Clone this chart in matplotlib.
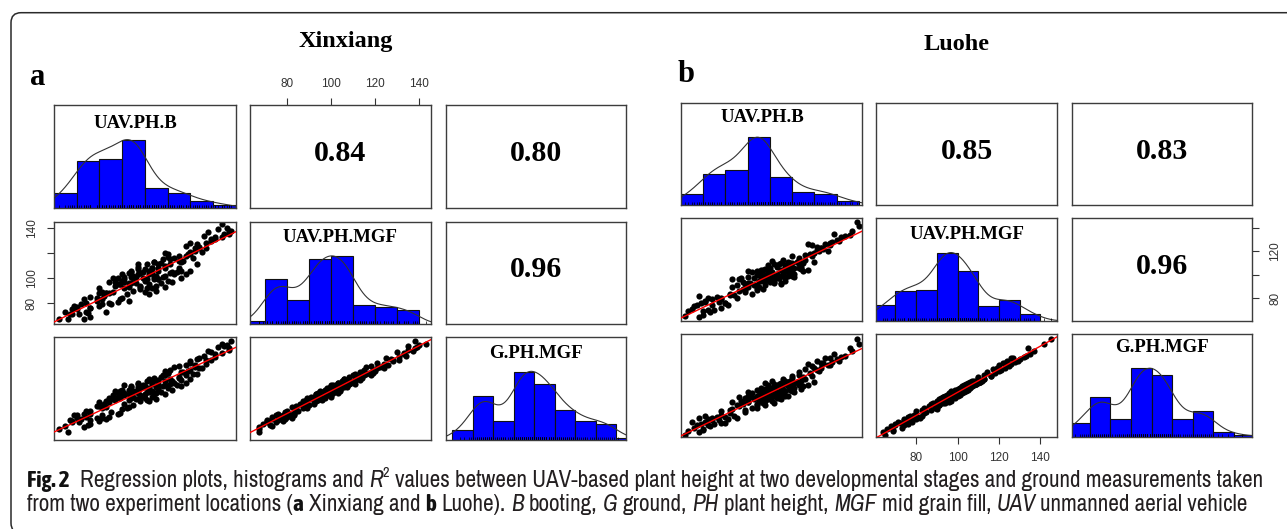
import math
import numpy as np
import matplotlib
matplotlib.use("Agg")
import matplotlib.pyplot as plt
from matplotlib import font_manager as fm
from matplotlib.patches import FancyBboxPatch
from matplotlib.transforms import IdentityTransform

# ---------------------------------------------------------------- data
var_labels = ["UAV.PH.B", "UAV.PH.MGF", "G.PH.MGF"]
titles = ["Xinxiang", "Luohe"]
panel_letters = ["a", "b"]

# R^2 values shown in upper panels: (B,MGF), (B,G), (MGF,G)
r2_xinxiang = ["0.84", "0.80", "0.96"]
r2_luohe = ["0.85", "0.83", "0.96"]

# Xinxiang samples
xin_g = [64, 66, 68, 69, 71, 72, 72, 73, 74, 74, 75, 75, 76, 76, 77, 77, 78, 78, 79, 79,
         79, 81, 82, 83, 84, 85, 86, 88, 89, 90, 90, 91, 91, 92, 92, 93, 93, 94, 94, 94,
         95, 95, 95, 96, 96, 97, 97, 97, 98, 98, 98, 99, 99, 99, 100, 100, 101, 101, 102, 102,
         102, 103, 103, 104, 104, 105, 105, 105, 106, 106, 107, 107, 108, 108, 109, 109, 110, 111, 112, 112,
         113, 114, 115, 116, 117, 118, 119, 119, 121, 122, 124, 125, 126, 128, 129, 131, 133, 134, 136, 138,
         139, 141,
         70, 73, 76, 78, 80, 82, 84, 86, 87, 88, 89, 90, 91, 92, 93, 94, 95, 96, 97, 98,
         99, 100, 100, 101, 102, 103, 103, 104, 105, 106, 106, 107, 108, 109, 110, 111, 112, 113, 114, 115,
         116, 117, 118, 120, 121, 123, 125, 127, 130, 132, 135, 137, 96, 99, 102, 104, 93, 97, 101, 85]
xin_mgf = [67, 67, 67, 73, 69, 75, 71, 78, 71, 76, 79, 73, 77, 82, 73, 80, 78, 83, 76, 81,
           83, 79, 85, 84, 89, 82, 88, 92, 88, 93, 88, 96, 92, 89, 96, 95, 89, 95, 100, 92,
           98, 94, 100, 98, 93, 101, 97, 103, 96, 101, 99, 95, 104, 101, 99, 104, 103, 98, 107, 102,
           105, 101, 107, 105, 100, 108, 111, 104, 108, 103, 111, 108, 106, 113, 111, 106, 114, 112, 118, 110,
           116, 119, 114, 120, 119, 124, 116, 122, 126, 124, 128, 131, 127, 131, 134, 133, 137, 135, 139, 140,
           143, 138,
           72, 71, 79, 75, 83, 80, 87, 84, 90, 86, 92, 87, 94, 90, 97, 91, 99, 93, 100, 95,
           102, 97, 103, 99, 105, 100, 106, 102, 108, 103, 109, 105, 111, 106, 113, 108, 115, 111, 117, 113,
           119, 115, 121, 118, 124, 121, 128, 125, 133, 130, 138, 135, 99, 97, 106, 101, 96, 94, 104, 88]
xin_b = [56, 52, 63, 55, 66, 58, 61, 70, 57, 66, 62, 73, 60, 69, 64, 74, 59, 71, 66, 78,
         63, 75, 66, 80, 71, 83, 70, 81, 74, 88, 73, 83, 91, 76, 86, 79, 90, 78, 85, 93,
         80, 88, 76, 90, 83, 94, 81, 87, 97, 84, 91, 79, 93, 86, 96, 83, 92, 100, 87, 95,
         84, 98, 90, 104, 89, 96, 87, 101, 93, 103, 91, 99, 106, 94, 101, 92, 105, 97, 108, 99,
         111, 100, 107, 99, 110, 114, 103, 112, 108, 117, 110, 119, 113, 121, 116, 124, 118, 127, 122, 126,
         124, 128,
         65, 58, 71, 60, 79, 64, 82, 69, 85, 72, 70, 92, 77, 95, 74, 88, 81, 99, 78, 92,
         85, 102, 80, 96, 89, 106, 84, 99, 93, 108, 87, 102, 96, 110, 94, 105, 98, 113, 100, 106,
         109, 101, 115, 105, 112, 110, 117, 114, 121, 119, 127, 125, 94, 77, 96, 81, 84, 95, 88, 73]

# Luohe samples
luo_g = [63, 65, 66, 68, 69, 70, 71, 72, 72, 73, 74, 74, 75, 76, 76, 77, 77, 78, 78, 79,
         79, 81, 83, 84, 85, 86, 88, 89, 90, 90, 91, 91, 92, 92, 92, 93, 93, 94, 94, 94,
         95, 95, 95, 96, 96, 96, 97, 97, 97, 98, 98, 98, 99, 99, 99, 100, 100, 101, 101, 101,
         102, 102, 103, 103, 103, 104, 104, 105, 105, 105, 106, 106, 107, 107, 108, 108, 109, 109, 109, 110,
         112, 113, 115, 116, 118, 119, 120, 121, 122, 123, 124, 125, 126, 127, 128, 129, 132, 137, 144,
         67, 71, 73, 75, 77, 80, 82, 84, 86, 87, 88, 89, 90, 91, 92, 93, 94, 95, 96, 97,
         98, 99, 100, 101, 102, 103, 104, 105, 106, 107, 108, 109, 110, 111, 113, 114, 117, 120, 122, 124,
         126, 128, 130, 134, 140, 94, 96, 98, 100, 102, 104, 106, 92, 95, 97, 99, 101, 103, 88, 108]
luo_mgf = [65, 64, 69, 66, 73, 68, 74, 70, 76, 72, 78, 71, 77, 80, 74, 79, 82, 76, 81, 83,
           77, 84, 80, 87, 90, 84, 91, 87, 94, 88, 93, 96, 90, 95, 97, 91, 96, 92, 97, 99,
           93, 98, 96, 100, 94, 98, 101, 95, 99, 102, 96, 100, 97, 103, 98, 104, 97, 103, 99, 105,
           100, 104, 106, 101, 104, 107, 102, 108, 103, 106, 109, 104, 110, 105, 111, 106, 112, 107, 110, 113,
           110, 116, 118, 114, 121, 117, 123, 125, 120, 126, 122, 128, 124, 130, 126, 132, 135, 134, 145,
           69, 70, 76, 74, 80, 79, 85, 83, 89, 86, 91, 88, 93, 90, 95, 92, 97, 94, 99, 96,
           101, 98, 103, 100, 105, 102, 107, 104, 109, 106, 111, 108, 113, 110, 116, 113, 120, 119, 125, 123,
           129, 127, 133, 137, 142, 97, 95, 101, 99, 105, 103, 109, 95, 93, 100, 97, 104, 101, 91, 111]
luo_b = [52, 58, 53, 60, 56, 63, 57, 65, 59, 68, 61, 55, 67, 62, 71, 64, 58, 70, 66, 74,
         61, 72, 68, 79, 73, 82, 75, 84, 78, 87, 80, 73, 85, 91, 77, 83, 89, 79, 86, 93,
         81, 88, 76, 84, 92, 80, 90, 85, 95, 82, 89, 86, 94, 80, 91, 87, 97, 84, 92, 99,
         88, 95, 90, 101, 86, 93, 98, 89, 96, 103, 92, 100, 95, 88, 102, 97, 91, 104, 99, 96,
         105, 100, 108, 103, 111, 106, 113, 109, 116, 107, 114, 118, 111, 120, 115, 122, 119, 126, 129,
         60, 62, 70, 64, 75, 68, 79, 72, 84, 76, 88, 78, 92, 80, 86, 95, 83, 90, 98, 87,
         93, 101, 89, 96, 104, 91, 99, 107, 94, 101, 110, 97, 106, 100, 109, 103, 112, 110, 117, 113,
         121, 117, 124, 127, 130, 94, 97, 96, 100, 99, 105, 103, 88, 95, 91, 93, 96, 99, 84, 98]

# histogram bars on the diagonal (breaks and relative bar heights)
xin_hist_edges = [[50, 60, 70, 80, 90, 100, 110, 120, 130],
                  [60, 70, 80, 90, 100, 110, 120, 130, 140],
                  [60, 70, 80, 90, 100, 110, 120, 130, 140, 150]]
xin_hist_heights = [[0.22, 0.69, 0.72, 1.00, 0.30, 0.22, 0.10, 0.05],
                    [0.053, 0.66, 0.36, 0.96, 1.00, 0.28, 0.26, 0.21],
                    [0.146, 0.64, 0.27, 0.99, 0.82, 0.44, 0.27, 0.24, 0.03]]
luo_hist_edges = [[50, 60, 70, 80, 90, 100, 110, 120, 130],
                  [60, 70, 80, 90, 100, 110, 120, 130, 140],
                  [60, 70, 80, 90, 100, 110, 120, 130, 140, 150]]
luo_hist_heights = [[0.166, 0.46, 0.52, 1.00, 0.41, 0.19, 0.166, 0.06],
                    [0.23, 0.44, 0.45, 1.00, 0.73, 0.22, 0.30, 0.106],
                    [0.20, 0.58, 0.26, 1.00, 0.90, 0.26, 0.37, 0.07, 0.02]]

# axis ranges of the three variables
xin_lims = [(50.0, 130.0), (63.05, 145.2), (57.0, 144.8)]
luo_lims = [(50.0, 131.3), (60.6, 148.2), (61.2, 148.6)]

axis_ticks = [80, 100, 120, 140]
caption_line1 = [("Fig. 2", "bold"), ("  Regression plots, histograms and ", "normal"), ("R", "italic"),
                 ("2", "sup"), (" values between UAV-based plant height at two developmental stages and ground measurements taken", "normal")]
caption_line2 = [("from two experiment locations (", "normal"), ("a", "bold"), (" Xinxiang and ", "normal"),
                 ("b", "bold"), (" Luohe). ", "normal"), ("B", "italic"), (" booting, ", "normal"),
                 ("G", "italic"), (" ground, ", "normal"), ("PH", "italic"), (" plant height, ", "normal"),
                 ("MGF", "italic"), (" mid grain fill, ", "normal"), ("UAV", "italic"),
                 (" unmanned aerial vehicle", "normal")]

# ---------------------------------------------------------------- style
W, H = 1287, 529
SERIF = "Liberation Serif"
SANS = "Liberation Sans"
FRAME = "#3c3c3c"
TICKC = "#333333"

fig = plt.figure(figsize=(W / 100, H / 100), dpi=100)
fig.patch.set_facecolor("white")


def ax_px(x0, y0, x1, y1):
    return fig.add_axes([x0 / W, 1 - y1 / H, (x1 - x0) / W, (y1 - y0) / H])


def cdf(z):
    return 0.5 * (1 + np.vectorize(math.erf)(z / math.sqrt(2)))


def smooth_hist(edges, heights, xs, bw):
    y = np.zeros_like(xs)
    for a, b, h in zip(edges[:-1], edges[1:], heights):
        y += h * (cdf((xs - a) / bw) - cdf((xs - b) / bw))
    return y / y.max()


def frame(ax):
    for s in ax.spines.values():
        s.set_color(FRAME)
        s.set_linewidth(1.0)
    ax.set_xticks([])
    ax.set_yticks([])
    ax.set_facecolor("white")


def draw_pairs(cols_px, rows_px, data, lims, edges, heights, r2, label_xy):
    axes = {}
    r2_idx = {(0, 1): 0, (0, 2): 1, (1, 2): 2}
    for i in range(3):
        for j in range(3):
            ax = ax_px(cols_px[j][0], rows_px[i][0], cols_px[j][1], rows_px[i][1])
            frame(ax)
            axes[(i, j)] = ax
            if i == j:
                e = edges[i]
                hts = heights[i]
                ax.bar(e[:-1], hts, width=np.diff(e), align="edge", color="#0000ff",
                       edgecolor="#111111", linewidth=0.8, zorder=2)
                xs = np.linspace(lims[i][0] - 5, lims[i][1] + 5, 400)
                ax.plot(xs, smooth_hist(e, hts, xs, 5.5), color="#333333", lw=0.8, zorder=3)
                ax.vlines(data[i], 0, 0.045, color="black", lw=0.5, zorder=4)
                ax.set_xlim(*lims[i])
                ax.set_ylim(0, 1.5)
                ax.text(label_xy[i][0], label_xy[i][1], var_labels[i], transform=ax.transAxes,
                        ha="center", va="center", fontsize=13.5, fontweight="bold", family=SERIF)
            elif i < j:
                ax.set_xlim(0, 1)
                ax.set_ylim(0, 1)
                ax.text(0.5, 0.53, r2[r2_idx[(i, j)]], transform=ax.transAxes, ha="center",
                        va="center", fontsize=21.5, fontweight="bold", family=SERIF)
            else:
                x = np.asarray(data[j], float)
                y = np.asarray(data[i], float)
                ax.scatter(x, y, s=20, color="black", linewidths=0, zorder=2)
                k, c = np.polyfit(x, y, 1)
                xl = np.array(lims[j])
                ax.plot(xl, k * xl + c, color="red", lw=1.0, zorder=3)
                ax.set_xlim(*lims[j])
                ax.set_ylim(*lims[i])
    return axes


def tick_style(ax, axis, labels, **kw):
    ax.tick_params(axis=axis, which="both", direction="out", length=4.8, width=0.8,
                   color=TICKC, labelsize=8.5, labelcolor=TICKC, **kw)
    if axis == "x":
        ax.set_xticks(axis_ticks)
        ax.set_xticklabels(labels, family=SANS)
    else:
        ax.set_yticks(axis_ticks)
        ax.set_yticklabels(labels, family=SANS, rotation=90, va="center")


# ------------------------------------------------------------- panel a
cols_a = [(54, 235.7), (250, 430.7), (446, 626)]
rows_a = [(105.3, 208.3), (221.7, 324.3), (337, 440)]
axes_a = draw_pairs(cols_a, rows_a, [xin_b, xin_mgf, xin_g], xin_lims,
                    xin_hist_edges, xin_hist_heights, r2_xinxiang,
                    [(0.45, 0.82), (0.5, 0.85), (0.5, 0.84)])
axa = axes_a[(0, 1)]
axa.set_xlim(*xin_lims[1])
axa.xaxis.set_ticks_position("top")
tick_style(axa, "x", ["80", "100", "120", "140"], top=True, bottom=False,
           labeltop=True, labelbottom=False, pad=6.5)
axl = axes_a[(1, 0)]
tick_style(axl, "y", ["80", "100", "", "140"], left=True, labelleft=True, pad=7)

# ------------------------------------------------------------- panel b
cols_b = [(681, 861.7), (876, 1057.3), (1071.7, 1251.7)]
rows_b = [(103.3, 205), (218.3, 321), (334, 436.7)]
axes_b = draw_pairs(cols_b, rows_b, [luo_b, luo_mgf, luo_g], luo_lims,
                    luo_hist_edges, luo_hist_heights, r2_luohe,
                    [(0.45, 0.86), (0.5, 0.84), (0.5, 0.87)])
axr = axes_b[(1, 2)]
axr.set_ylim(*luo_lims[1])
axr.yaxis.set_ticks_position("right")
tick_style(axr, "y", ["80", "", "120", ""], right=True, left=False,
           labelright=True, labelleft=False, pad=8)
for t in axr.get_yticklabels():
    t.set_ha("left")
axb = axes_b[(2, 1)]
tick_style(axb, "x", ["80", "100", "120", "140"], bottom=True, labelbottom=True, pad=6.5)

# ------------------------------------------------------------- titles
fig.text(346 / W, 1 - 42 / H, titles[0], ha="center", va="center", fontsize=17.5,
         fontweight="bold", family=SERIF)
fig.text(957 / W, 1 - 45 / H, titles[1], ha="center", va="center", fontsize=17.5,
         fontweight="bold", family=SERIF)
fig.text(30 / W, 1 - 77 / H, panel_letters[0], ha="left", va="center", fontsize=22,
         fontweight="bold", family=SERIF)
fig.text(678 / W, 1 - 74 / H, panel_letters[1], ha="left", va="center", fontsize=22,
         fontweight="bold", family=SERIF)

# ------------------------------------------------------------- border box
box = FancyBboxPatch((11, -4), 1300, 529 - 12.7 + 4, boxstyle="round,pad=0,rounding_size=10",
                     transform=IdentityTransform(), facecolor="none", edgecolor="#2a2a2a",
                     linewidth=1.1)
fig.add_artist(box)

# ------------------------------------------------------------- caption font choice
entries = fm.fontManager.ttflist


def wnum(f):
    w = f.weight
    if isinstance(w, str):
        w = fm.weight_dict.get(w, 400)
    return int(w)


def has_face(fam, wlo, whi, stretch=None):
    for f in entries:
        if f.name == fam and f.style == "normal" and wlo <= wnum(f) <= whi:
            if stretch is None or f.stretch == stretch:
                return True
    return False


def narrow_name(fam):
    return ("Narrow" in fam or "Condensed" in fam) and "Serif" not in fam and "Mono" not in fam


fams = sorted({f.name for f in entries})
cap_family, cap_stretch, cap_weight = "Open Sans", "normal", "normal"
chosen = False
for fam in fams:
    if narrow_name(fam) and has_face(fam, 350, 450):
        cap_family, chosen = fam, True
        break
if not chosen:
    for fam in ["Open Sans", "Noto Sans", "DejaVu Sans", "Roboto"]:
        if any(f.name == fam and f.stretch in ("condensed", "semi-condensed") and 350 <= wnum(f) <= 450
               for f in entries):
            cap_family, cap_stretch, chosen = fam, "condensed", True
            break
if not chosen:
    for fam in fams:
        if "Condensed" in fam and has_face(fam, 250, 350):
            cap_family, cap_weight, chosen = fam, "light", True
            break

# bold face: same family if it has one, otherwise another narrow family with bold
bold_family, bold_stretch = cap_family, cap_stretch
if not has_face(cap_family, 600, 800, None if cap_stretch == "normal" else cap_stretch):
    for fam in fams:
        if narrow_name(fam) and has_face(fam, 600, 800):
            bold_family, bold_stretch = fam, "normal"
            break

renderer = fig.canvas.get_renderer()
CAPC = "#231f20"


def seg_props(style, size):
    p = dict(family=cap_family, fontstretch=cap_stretch, color=CAPC, fontsize=size,
             fontweight=cap_weight)
    if style == "bold":
        p["fontweight"] = "bold"
        p["family"] = bold_family
        p["fontstretch"] = bold_stretch
        p["color"] = "#111111"
    elif style == "italic":
        p["fontstyle"] = "italic"
    elif style == "sup":
        p["fontsize"] = size * 0.62
    return p


def width_of(s, props):
    t = fig.text(0, 0, s, **props)
    w = t.get_window_extent(renderer).width
    t.remove()
    return w


def draw_line(segs, x0, y_base, size, draw=True):
    x = x0
    for s, style in segs:
        props = seg_props(style, size)
        sp = width_of("x x", props) - width_of("xx", props)
        core = s.strip()
        lead = len(s) - len(s.lstrip())
        trail = len(s) - len(s.rstrip())
        x += lead * sp
        if draw and core:
            dy = 0.42 * size * 100 / 72 if style == "sup" else 0
            fig.text(x / W, (H - y_base + dy) / H, core, ha="left", va="baseline", **props)
        if core:
            x += width_of(core, props)
        x += trail * sp
    return x


base = 10.0
natural = draw_line(caption_line1, 0, 0, base, draw=False)
cap_size = base * (1270 - 27) / natural
draw_line(caption_line1, 27, 487, cap_size)
draw_line(caption_line2, 27, 511, cap_size)

fig.savefig("out.png", dpi=100)
